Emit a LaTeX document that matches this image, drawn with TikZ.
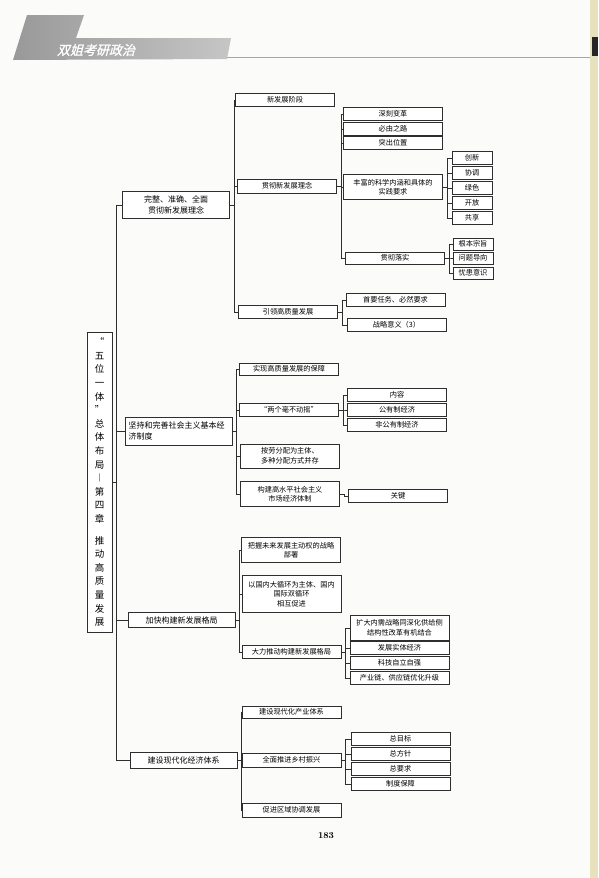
\documentclass[tikz,border=0pt]{standalone}
\usepackage{fontspec}
\newfontfamily\cjk{Noto Sans CJK SC}
\newfontfamily\cjkslant[FakeSlant=0.25,FakeBold=1.2]{Noto Sans CJK SC}
\usetikzlibrary{positioning,calc}
\definecolor{ink}{HTML}{2E2E2E}
\definecolor{paper}{HTML}{FBFBF9}
\definecolor{spine}{HTML}{E8E1BE}
\tikzset{box/.style={draw=ink,fill=white,line width=.6pt,font=\cjk\fontsize{7.2}{9.5}\selectfont,align=center,inner sep=1pt,minimum height=13pt},topic/.style={box,minimum width=107pt,font=\cjk\fontsize{8}{10.5}\selectfont},mid/.style={box,minimum width=99pt},pill/.style={box,minimum width=40pt},link/.style={draw=ink,line width=.6pt}}
\newcommand{\fork}[2]{\foreach \kid in {#2} \draw[link] (#1.east) -- ++(4,0) |- (\kid.west);}

\begin{document}
\begin{tikzpicture}[x=1pt,y=-1pt]
  \useasboundingbox (0,0) rectangle (598,878);
  \fill[paper] (0,0) rectangle (598,878);
  % page header
  \shade[left color=gray!80,right color=gray!45] (13,60) -- (27,15) -- (84,15) -- (76,38) -- (231,38) -- (227,59) -- cycle;
  \node[font=\cjkslant\fontsize{13}{14}\selectfont,text=white] (brand) at (96,50) {双姐考研政治};
  \draw[gray!70,line width=.8pt] (227,57) -- (590,57);
  \fill[spine] (590,0) rectangle (598,878);
  \fill[black!85] (592,37) rectangle (598,56);
  % root
  \node[box,minimum width=25pt,minimum height=300pt,font=\cjk\fontsize{9.5}{13.6}\selectfont] (root) at (99.5,482)
    {“\\五\\位\\一\\体\\”\\总\\体\\布\\局\\︱\\第\\四\\章\\[8pt]推\\动\\高\\质\\量\\发\\展};
  \node[topic,minimum height=27pt] (dev) at (176,205) {完整、准确、全面\\贯彻新发展理念};
  \node[topic,minimum height=28pt,align=left,text width=100pt] (sys) at (178.5,431) {坚持和完善社会主义基本经\\济制度};
  \node[topic,minimum height=15pt] (pat) at (181.5,620) {加快构建新发展格局};
  \node[topic,minimum height=16pt] (eco) at (183.5,760) {建设现代化经济体系};
  \fork{root}{dev,sys,pat,eco}
  % new development idea
  \node[mid] (stage) at (285,100) {新发展阶段};
  \node[mid,minimum height=14pt] (idea) at (287,186) {贯彻新发展理念};
  \node[mid] (lead) at (288,312) {引领高质量发展};
  \fork{dev}{stage,idea,lead}
  \node[mid] (change) at (393,114) {深刻变革};
  \node[mid] (road) at (393,129) {必由之路};
  \node[mid] (place) at (393,143) {突出位置};
  \node[mid,minimum height=25pt] (req) at (393,187) {丰富的科学内涵和具体的\\实践要求};
  \node[mid,minimum height=12pt] (act) at (395,258) {贯彻落实};
  \fork{idea}{change,road,place,req,act}
  \foreach \name/\txt/\y in {inno/创新/158,coor/协调/173,green/绿色/188,open/开放/203,share/共享/218}
    \node[pill] (\name) at (472,\y) {\txt};
  \fork{req}{inno,coor,green,open,share}
  \foreach \name/\txt/\y in {aim/根本宗旨/244,prob/问题导向/258,risk/忧患意识/273}
    \node[pill,minimum height=12pt] (\name) at (473,\y) {\txt};
  \fork{act}{aim,prob,risk}
  \node[mid] (task) at (395.5,300) {首要任务、必然要求};
  \node[mid] (sig) at (396.5,325) {战略意义（3）};
  \fork{lead}{task,sig}
  % basic economic system
  \node[mid,minimum height=12pt] (guar) at (289,369) {实现高质量发展的保障};
  \node[mid] (two) at (289,410) {“两个毫不动摇”};
  \node[mid,minimum height=24pt] (dist) at (290,456) {按劳分配为主体、\\多种分配方式并存};
  \node[mid,minimum height=25pt] (mkt) at (290,494) {构建高水平社会主义\\市场经济体制};
  \fork{sys}{guar,two,dist,mkt}
  \foreach \name/\txt/\y in {cont/内容/395,pub/公有制经济/410,npub/非公有制经济/425}
    \node[mid] (\name) at (397,\y) {\txt};
  \fork{two}{cont,pub,npub}
  \node[mid] (key) at (398,496) {关键};
  \fork{mkt}{key}
  % new development pattern
  \node[mid,minimum height=25pt] (plan) at (291,550) {把握未来发展主动权的战略\\部署};
  \node[mid,minimum height=37pt] (loop) at (291.5,594) {以国内大循环为主体、国内\\国际双循环\\相互促进};
  \node[mid] (push) at (291.5,652) {大力推动构建新发展格局};
  \fork{pat}{plan,loop,push}
  \node[mid,minimum height=25pt] (dem) at (399.5,628) {扩大内需战略同深化供给侧\\结构性改革有机结合};
  \foreach \name/\txt/\y in {real/发展实体经济/648,tech/科技自立自强/663,chain/产业链、供应链优化升级/678}
    \node[mid] (\name) at (399.5,\y) {\txt};
  \fork{push}{dem,real,tech,chain}
  % modern economic system
  \node[mid,minimum height=12pt] (ind) at (291.5,712) {建设现代化产业体系};
  \node[mid,minimum height=14pt] (rur) at (291.5,760) {全面推进乡村振兴};
  \node[mid,minimum height=14pt] (reg) at (291.5,810) {促进区域协调发展};
  \fork{eco}{ind,rur,reg}
  \foreach \name/\txt/\y in {goal/总目标/739,pol/总方针/754,want/总要求/769,inst/制度保障/784}
    \node[mid] (\name) at (400.5,\y) {\txt};
  \fork{rur}{goal,pol,want,inst}
  \node[font=\bfseries\fontsize{9}{10}\selectfont] (page) at (326,836) {183};
\end{tikzpicture}
\end{document}
